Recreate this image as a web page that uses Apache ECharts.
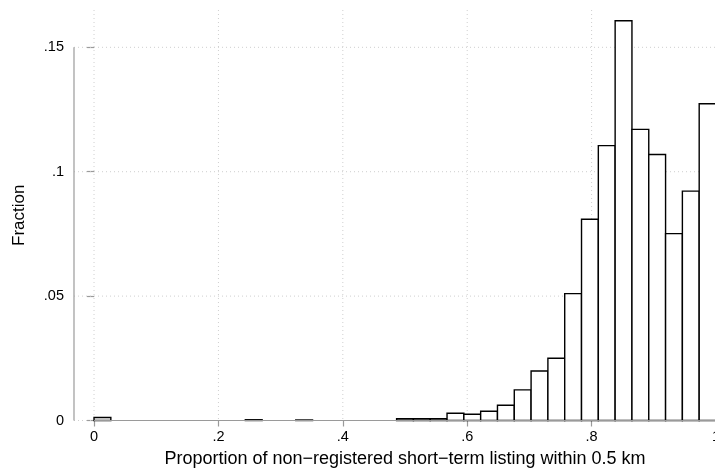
<!DOCTYPE html>
<html>
<head>
<meta charset="utf-8">
<script src="https://cdn.jsdelivr.net/npm/echarts@6/dist/echarts.min.js"></script>
<style>
  html, body { margin: 0; padding: 0; background: #fff; }
  #chart { width: 715px; height: 471px; }
</style>
</head>
<body>
<div id="chart"></div>
<script>
// histogram bins: 37 equal bins between 0 and 1
const binCount = 37;
const binStart = 0;
const binEnd = 1;
const fractions = [
  0.0012, 0, 0, 0, 0, 0, 0, 0, 0, 0.0003,
  0, 0, 0.0002, 0, 0, 0, 0, 0, 0.0007, 0.0007,
  0.0007, 0.0029, 0.0025, 0.0037, 0.0061, 0.0123, 0.0199, 0.025, 0.051, 0.0809,
  0.1105, 0.1607, 0.117, 0.1069, 0.0751, 0.0922, 0.1273
];
const xTicks = [0, 0.2, 0.4, 0.6, 0.8, 1];
const xTickLabels = ['0', '.2', '.4', '.6', '.8', '1'];
const yTicks = [0, 0.05, 0.1, 0.15];
const yTickLabels = ['0', '.05', '.1', '.15'];
const xTitle = 'Proportion of non\u2212registered short\u2212term listing within 0.5 km';
const yTitle = 'Fraction';

const binWidth = (binEnd - binStart) / binCount;
const bars = [];
fractions.forEach(function (f, i) {
  if (f > 0) bars.push([binStart + i * binWidth, binStart + (i + 1) * binWidth, f]);
});

const FONT = 'Liberation Sans';
const AXIS_GRAY = '#9a9a9a';
const GRID_GRAY = '#cfcfcf';

function labelFor(ticks, labels) {
  return function (v) {
    for (let i = 0; i < ticks.length; i++) {
      if (Math.abs(ticks[i] - v) < 1e-9) return labels[i];
    }
    return '';
  };
}

let chart = echarts.init(document.getElementById('chart'));
chart.setOption({
  animation: false,
  backgroundColor: '#fff',
  grid: { left: 74, right: -1, top: 10, bottom: 50.5, outerBoundsMode: 'none', containLabel: false },
  xAxis: {
    type: 'value',
    min: -0.0322,
    max: 1,
    name: xTitle,
    nameLocation: 'middle',
    nameGap: 30,
    nameTextStyle: { fontFamily: FONT, fontSize: 18, color: '#000', padding: [0, 0, 0, 20] },
    axisLine: { show: false },
    axisTick: { show: true, customValues: xTicks, length: 6, lineStyle: { color: AXIS_GRAY, width: 1.2 } },
    axisLabel: {
      customValues: xTicks, margin: 9, fontFamily: FONT, fontSize: 14.5, color: '#000',
      formatter: labelFor(xTicks, xTickLabels)
    },
    splitLine: { show: false }
  },
  yAxis: {
    type: 'value',
    min: 0,
    max: 0.165,
    name: yTitle,
    nameLocation: 'middle',
    nameGap: 46,
    nameTextStyle: { fontFamily: FONT, fontSize: 17, color: '#000' },
    axisLine: { show: false },
    axisTick: { show: true, customValues: yTicks, length: 7, lineStyle: { color: AXIS_GRAY, width: 1.2 } },
    axisLabel: {
      customValues: yTicks, margin: 10, fontFamily: FONT, fontSize: 14.5, color: '#000',
      formatter: labelFor(yTicks, yTickLabels)
    },
    splitLine: { show: false }
  },
  series: [
    {
      // vertical dotted grid lines
      type: 'custom',
      z: 1,
      silent: true,
      data: xTicks.slice(0, -1),
      encode: { x: 0 },
      renderItem: function (params, api) {
        const cs = params.coordSys;
        const p = api.coord([api.value(0), 0]);
        return {
          type: 'line',
          shape: { x1: p[0], y1: cs.y, x2: p[0], y2: cs.y + cs.height },
          style: { stroke: GRID_GRAY, lineWidth: 1, lineDash: [1, 3] }
        };
      }
    },
    {
      // horizontal dotted grid lines
      type: 'custom',
      z: 1,
      silent: true,
      data: yTicks.map(function (v) { return [0, v]; }),
      encode: { y: 1 },
      renderItem: function (params, api) {
        const cs = params.coordSys;
        const p = api.coord([0, api.value(1)]);
        return {
          type: 'line',
          shape: { x1: cs.x, y1: p[1], x2: cs.x + cs.width, y2: p[1] },
          style: { stroke: GRID_GRAY, lineWidth: 1, lineDash: [1, 3] }
        };
      }
    },
    {
      // histogram bars
      type: 'custom',
      z: 3,
      data: bars,
      encode: { x: [0, 1], y: 2 },
      renderItem: function (params, api) {
        const p0 = api.coord([api.value(0), api.value(2)]);
        const p1 = api.coord([api.value(1), 0]);
        return {
          type: 'rect',
          shape: { x: p0[0], y: p0[1], width: p1[0] - p0[0], height: p1[1] - p0[1] },
          style: { fill: '#fff', stroke: '#000', lineWidth: 1.4 }
        };
      }
    },
    {
      // axis lines spanning only the tick range (stata style)
      type: 'custom',
      z: 4,
      silent: true,
      data: [[0]],
      renderItem: function (params, api) {
        const cs = params.coordSys;
        const y0 = api.coord([0, yTicks[0]])[1];
        const y1 = api.coord([0, yTicks[yTicks.length - 1]])[1];
        const x0 = api.coord([xTicks[0], 0])[0];
        const x1 = api.coord([xTicks[xTicks.length - 1], 0])[0];
        return {
          type: 'group',
          children: [
            { type: 'line', shape: { x1: cs.x, y1: y0, x2: cs.x, y2: y1 }, style: { stroke: AXIS_GRAY, lineWidth: 1.2 } },
            { type: 'line', shape: { x1: x0, y1: y0, x2: x1, y2: y0 }, style: { stroke: AXIS_GRAY, lineWidth: 1.2 } }
          ]
        };
      }
    }
  ]
});
window.onresize = function () {
  chart.resize();
};
</script>
</body>
</html>
